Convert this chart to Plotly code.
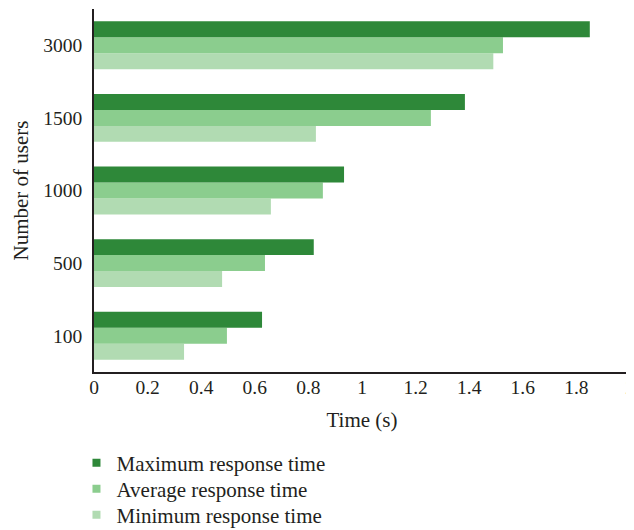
import plotly.graph_objects as go

categories = ["100", "500", "1000", "1500", "3000"]
max_time = [0.627, 0.82, 0.933, 1.384, 1.85]
avg_time = [0.496, 0.638, 0.854, 1.257, 1.526]
min_time = [0.336, 0.478, 0.66, 0.828, 1.49]
series_names = ["Maximum response time", "Average response time", "Minimum response time"]
colors = ["#2E8839", "#8BCD8E", "#B1DBB2"]
x_ticks = [0, 0.2, 0.4, 0.6, 0.8, 1, 1.2, 1.4, 1.6, 1.8, 2]

font_family = "Liberation Serif"
text_color = "#231F20"
W, H = 626, 522  # page body has an 8px margin in the viewer

fig = go.Figure()
# bars: bottom-to-top within a group is min, avg, max
for name, vals, col in [(series_names[2], min_time, colors[2]),
                        (series_names[1], avg_time, colors[1]),
                        (series_names[0], max_time, colors[0])]:
    fig.add_trace(go.Bar(y=categories, x=vals, name=name, orientation="h",
                         marker=dict(color=col, line=dict(width=0)), showlegend=False))

# legend entries (square markers), one legend per entry for tight spacing
legend_ids = ["legend", "legend2", "legend3"]
for name, col, lid in zip(series_names, colors, legend_ids):
    fig.add_trace(go.Scatter(x=[None], y=[None], mode="markers", name=name,
                             marker=dict(symbol="square", size=8, color=col),
                             legend=lid, showlegend=True))

legend_y = [1 - 455 / H, 1 - 481 / H, 1 - 507 / H]
leg_common = dict(orientation="v", x=-0.0327, xanchor="left", yanchor="middle",
                  yref="container", font=dict(size=21, family=font_family, color=text_color),
                  bgcolor="rgba(0,0,0,0)", borderwidth=0)

fig.update_layout(
    width=W, height=H,
    margin=dict(l=86, r=4, t=1, b=158),
    barmode="group", bargap=0.34, bargroupgap=0,
    plot_bgcolor="white", paper_bgcolor="white",
    font=dict(family=font_family, size=18, color=text_color),
    showlegend=True,
    legend=dict(y=legend_y[0], **leg_common),
    legend2=dict(y=legend_y[1], **leg_common),
    legend3=dict(y=legend_y[2], **leg_common),
)
fig.update_xaxes(range=[0, 2], tickvals=x_ticks, showgrid=False, zeroline=False,
                 showline=True, linecolor=text_color, linewidth=1.5, ticks="",
                 automargin=False, ticklabelstandoff=-3, ticklabeloverflow="allow",
                 title=dict(text="Time (s)", standoff=15, font=dict(size=21)),
                 tickfont=dict(size=19.5))
fig.update_yaxes(type="category", categoryorder="array", categoryarray=categories,
                 showgrid=False, zeroline=False, showline=True, linecolor=text_color,
                 linewidth=1.5, ticks="", ticklabelstandoff=6, automargin=False,
                 title=dict(text="Number of users", standoff=9, font=dict(size=21)),
                 tickfont=dict(size=19.5))

fig.write_html("out.html")
